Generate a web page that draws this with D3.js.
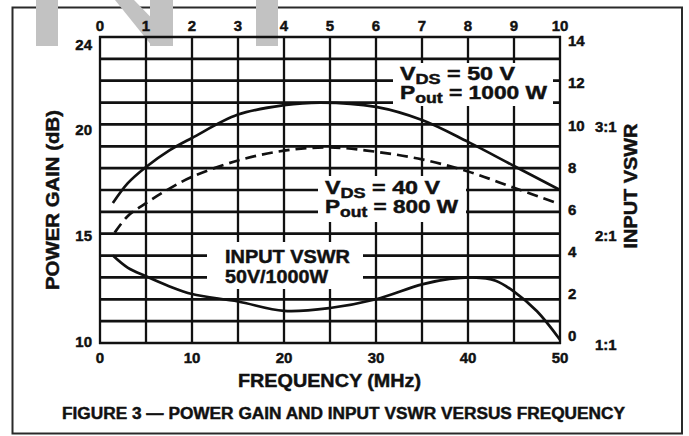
<!DOCTYPE html>
<html>
<head>
<script src="https://d3js.org/d3.v7.min.js"></script>
<style>
  body { margin: 0; background: #fff; }
  text { font-family: "Liberation Sans", Arial, Helvetica, sans-serif; font-weight: bold; fill: #111; stroke: #111; stroke-width: 0.45px; }
</style>
</head>
<body>
<svg width="689" height="436"></svg>
<script>
// power gain (dB) vs frequency (MHz), VDS = 50 V, Pout = 1000 W
const freq50 = [1.4, 3, 5, 7.5, 10, 15, 20, 24, 30, 35, 40, 45, 50];
const gain50 = [16.4, 17.3, 18.05, 18.8, 19.38, 20.45, 20.88, 21.0, 20.8, 20.2, 19.2, 18.1, 17.0];

// power gain (dB), VDS = 40 V, Pout = 800 W (dashed)
const freq40 = [1.6, 3, 5, 7.5, 10, 15, 20, 25, 30, 35, 40, 45, 50];
const gain40 = [15.05, 15.8, 16.4, 17.05, 17.6, 18.35, 18.8, 18.95, 18.75, 18.4, 17.85, 17.1, 16.35];

// input VSWR, 50V/1000W, read on the right-hand 0..14 scale
const freqVswr = [1.4, 3, 5, 7.5, 10, 15, 20, 25, 30, 35, 38, 40.5, 43, 45, 47.5, 50];
const vswr = [4.0, 3.45, 3.05, 2.6, 2.24, 1.9, 1.47, 1.6, 2.0, 2.68, 2.93, 3.0, 2.85, 2.35, 1.45, 0.15];

// axis labels
const topTicks = [0, 1, 2, 3, 4, 5, 6, 7, 8, 9, 10];
const bottomTicks = [0, 10, 20, 30, 40, 50];
const gainTicks = [24, 20, 15, 10];
const rightTicks = [14, 12, 10, 8, 6, 4, 2, 0];
const ratioLabels = ["3:1", "2:1", "1:1"];
const ratioValues = [10, 5, 0];

const svg = d3.select("svg");

const x = d3.scaleLinear().domain([0, 50]).range([100, 560]);
const xTop = d3.scaleLinear().domain([0, 10]).range([100, 560]);
const yG = d3.scaleLinear().domain([10, 24]).range([343, 37]);
const yV = d3.scaleLinear().domain([0, 14]).range([343, 37]);
// printed labels sit a little inside the grid
const yGLabel = d3.scaleLinear().domain([10, 24]).range([342, 45]);
const yVLabel = d3.scaleLinear().domain([0, 14]).range([336, 41]);

// outer frame
svg.append("rect")
  .attr("x", 12.5).attr("y", 7.5).attr("width", 669.5).attr("height", 426)
  .attr("fill", "none").attr("stroke", "#2a2a2a").attr("stroke-width", 2);

// watermark
const wm = svg.append("g").attr("fill", "#c2c2c2");
wm.append("rect").attr("x", 36).attr("y", 0).attr("width", 22).attr("height", 46);
wm.append("polygon").attr("points", "115,0 134,0 173,40 173,46 152,46");
wm.append("rect").attr("x", 150).attr("y", 0).attr("width", 23).attr("height", 46);
wm.append("rect").attr("x", 256).attr("y", 0).attr("width", 22).attr("height", 46);

// grid
const grid = svg.append("g").attr("stroke", "#111");
grid.selectAll(".h").data(d3.range(10, 25)).enter().append("line")
  .attr("x1", x(0) - 1).attr("x2", x(50) + 1)
  .attr("y1", d => yG(d)).attr("y2", d => yG(d))
  .attr("stroke-width", 2.7);
grid.selectAll(".v").data(x.ticks(10)).enter().append("line")
  .attr("x1", d => x(d)).attr("x2", d => x(d))
  .attr("y1", yG(24) - 1).attr("y2", yG(10) + 1)
  .attr("stroke-width", 2.3);

// white patches behind the annotations
const boxes = [[393, 63, 160, 43], [318, 176, 148, 46], [207, 242, 156, 47]];
svg.selectAll(".box").data(boxes).enter().append("rect")
  .attr("x", d => d[0]).attr("y", d => d[1]).attr("width", d => d[2]).attr("height", d => d[3])
  .attr("fill", "#fff");

// curves
const lineG = d3.line().x(d => x(d[0])).y(d => yG(d[1])).curve(d3.curveCatmullRom.alpha(0.5));
const lineV = d3.line().x(d => x(d[0])).y(d => yV(d[1])).curve(d3.curveCatmullRom.alpha(0.5));

svg.append("path").datum(d3.zip(freq50, gain50))
  .attr("d", lineG).attr("fill", "none").attr("stroke", "#111").attr("stroke-width", 2.7);
svg.append("path").datum(d3.zip(freq40, gain40))
  .attr("d", lineG).attr("fill", "none").attr("stroke", "#111").attr("stroke-width", 2.7)
  .attr("stroke-dasharray", "11,6");
svg.append("path").datum(d3.zip(freqVswr, vswr))
  .attr("d", lineV).attr("fill", "none").attr("stroke", "#111").attr("stroke-width", 2.7);

// tick labels
svg.selectAll(".tt").data(topTicks).enter().append("text")
  .attr("x", d => xTop(d)).attr("y", 31).attr("text-anchor", "middle")
  .attr("font-size", 15).text(d => d);
svg.selectAll(".bt").data(bottomTicks).enter().append("text")
  .attr("x", d => x(d)).attr("y", 363).attr("text-anchor", "middle")
  .attr("font-size", 15).text(d => d);
svg.selectAll(".lt").data(gainTicks).enter().append("text")
  .attr("x", 92).attr("y", d => yGLabel(d)).attr("dy", "0.35em").attr("text-anchor", "end")
  .attr("font-size", 15).text(d => d);
svg.selectAll(".rt").data(rightTicks).enter().append("text")
  .attr("x", 568).attr("y", d => yVLabel(d)).attr("dy", "0.35em")
  .attr("font-size", 15).text(d => d);
svg.selectAll(".rr").data(ratioLabels).enter().append("text")
  .attr("x", 595).attr("y", (d, i) => yV(ratioValues[i]) + 2).attr("dy", "0.35em")
  .attr("font-size", 15).text(d => d);

// axis titles
svg.append("text").attr("transform", "translate(59,200) rotate(-90)")
  .attr("text-anchor", "middle").attr("font-size", 18)
  .attr("textLength", 180).attr("lengthAdjust", "spacingAndGlyphs")
  .text("POWER GAIN (dB)");
svg.append("text").attr("transform", "translate(637,186) rotate(-90)")
  .attr("text-anchor", "middle").attr("font-size", 18)
  .attr("textLength", 125).attr("lengthAdjust", "spacingAndGlyphs")
  .text("INPUT VSWR");
svg.append("text").attr("x", 238).attr("y", 387).attr("font-size", 18)
  .attr("textLength", 183).attr("lengthAdjust", "spacingAndGlyphs")
  .text("FREQUENCY (MHz)");
svg.append("text").attr("x", 62).attr("y", 419).attr("font-size", 16)
  .attr("textLength", 563).attr("lengthAdjust", "spacingAndGlyphs")
  .text("FIGURE 3 \u2014 POWER GAIN AND INPUT VSWR VERSUS FREQUENCY");

// annotations: main text, optional subscript, rest
function note(px, py, main, sub, rest, len) {
  const t = svg.append("text").attr("x", px).attr("y", py).attr("font-size", 18)
    .attr("textLength", len).attr("lengthAdjust", "spacingAndGlyphs");
  t.append("tspan").text(main);
  if (sub) t.append("tspan").attr("font-size", 14).attr("dy", 4).text(sub);
  t.append("tspan").attr("dy", sub ? -4 : 0).text(rest);
}
note(400, 80, "V", "DS", " = 50 V", 115);
note(400, 99, "P", "out", " = 1000 W", 147);
note(325, 194, "V", "DS", " = 40 V", 115);
note(325, 213, "P", "out", " = 800 W", 133);
note(225, 263, "INPUT VSWR", null, "", 125);
note(225, 283, "50V/1000W", null, "", 103);
</script>
</body>
</html>
